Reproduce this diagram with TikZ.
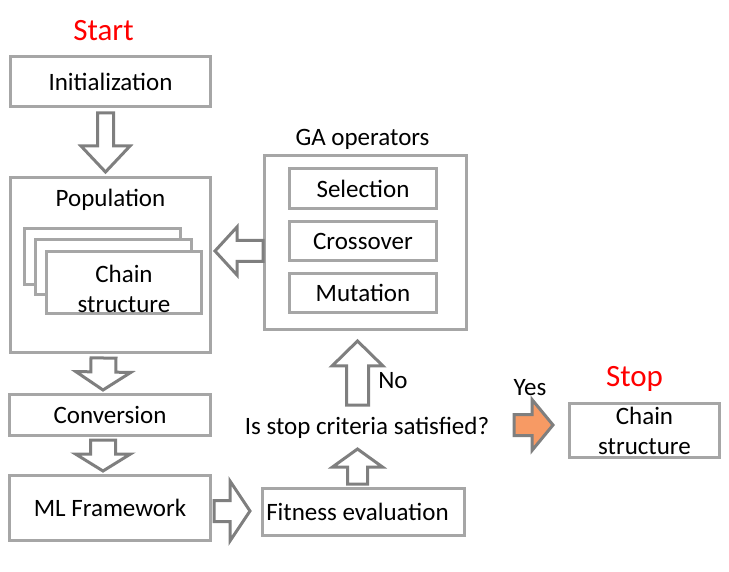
\documentclass[tikz,border=0pt]{standalone}
\usepackage{fontspec}
\setmainfont{Carlito}
\usetikzlibrary{calc}
\definecolor{boxgray}{HTML}{A6A6A6}
\definecolor{arrgray}{HTML}{7F7F7F}
\definecolor{yesorange}{HTML}{F79A64}
\tikzset{
  box/.style={draw=boxgray, line width=3pt, fill=white, inner sep=0pt, font=\fontsize{25}{30}\selectfont, align=center},
  txt/.style={inner sep=0pt, font=\fontsize{25}{30}\selectfont, align=center},
  big/.style={inner sep=0pt, text=red, font=\fontsize{31}{36}\selectfont},
  barr/.style={draw=arrgray, line width=3pt, fill=white, line join=miter},
}
% #1 options, #2 start, #3 tip, #4 shaft half width, #5 head half width, #6 head length (all in pt)
\newcommand\blockarr[6][]{%
  \coordinate (ba-h) at ($(#3)!#6pt!(#2)$);
  \draw[barr,#1] ($(#2)!#4pt!90:(#3)$) -- ($(ba-h)!#4pt!90:(#3)$) -- ($(ba-h)!#5pt!90:(#3)$) -- (#3)
    -- ($(ba-h)!#5pt!-90:(#3)$) -- ($(ba-h)!#4pt!-90:(#3)$) -- ($(#2)!#4pt!-90:(#3)$) -- cycle;
}
\begin{document}
\begin{tikzpicture}[x=1pt,y=-1pt]
\useasboundingbox (0,0) rectangle (729,572);
% left column
\node[box, minimum width=200, minimum height=50] (init) at (110.5,81.5) {Initialization};
\node[big] (start) at ($(init.north)+(-7,-24)$) {Start};
\node[box, minimum width=200, minimum height=175] (pop) at (110.5,265) {};
\node[txt] (poplbl) at ($(pop.north)+(0,24)$) {Population};
\node[box, minimum width=156, minimum height=56] (cb) at (102.5,256.5) {};
\node[box, minimum width=156, minimum height=55] (cm) at (113.5,267) {};
\node[box, minimum width=155, minimum height=62] (cf) at (124,282.5) {};
\node[txt] (cftxt) at ($(cf.center)+(0,6)$) {Chain\\structure};
\node[box, minimum width=201, minimum height=41] (conv) at (110,415) {Conversion};
\node[box, minimum width=201, minimum height=65] (ml) at (110,508) {ML Framework};
% GA operators
\node[box, minimum width=202, minimum height=174] (ga) at (365.5,242.5) {};
\node[txt] (galbl) at ($(ga.north)+(-3,-15)$) {GA operators};
\node[box, minimum width=147, minimum height=40] (sel) at (363,188.5) {Selection};
\node[box, minimum width=147, minimum height=39] (cro) at (363,241) {Crossover};
\node[box, minimum width=147, minimum height=39] (mut) at (363,293) {Mutation};
% fitness / decision
\node[box, minimum width=202, minimum height=47] (fit) at (363.5,512) {};
\node[txt] (fittxt) at ($(fit.center)+(-6,0)$) {Fitness evaluation};
\node[txt] (q) at (367,428) {Is stop criteria satisfied?};
\node[txt] (no) at ($(q.center)+(26,-47)$) {No};
% stop
\node[box, minimum width=150, minimum height=54] (cr) at (644.5,430.5) {Chain\\structure};
\node[big] (stop) at ($(cr.north)+(-10,-23)$) {Stop};
\node[txt] (yes) at ($(cr.west)+(-38,-43)$) {Yes};
% block arrows
\coordinate (a1s) at ($(init.south)+(-5,5)$);
\coordinate (a1e) at ($(pop.north)+(-5,-4)$);
\blockarr{a1s}{a1e}{8}{24.5}{26}
\coordinate (a2s) at ($(pop.south)+(-7,4)$);
\coordinate (a2e) at ($(conv.north)+(-7,-3)$);
\blockarr{a2s}{a2e}{12.5}{27.5}{18}
\coordinate (a3s) at ($(conv.south)+(-7,3)$);
\coordinate (a3e) at ($(ml.north)+(-7,-3)$);
\blockarr{a3s}{a3e}{12.5}{27.5}{17}
\coordinate (a4s) at ($(ml.east)+(2,3)$);
\coordinate (a4e) at ($(fit.west)+(-11,-1)$);
\blockarr{a4s}{a4e}{10.5}{30}{20}
\coordinate (a5s) at ($(fit.north)+(-6,-3)$);
\coordinate (a5e) at ($(q.center)+(-9.5,21)$);
\blockarr{a5s}{a5e}{10}{25}{18}
\coordinate (a6s) at ($(q.center)+(-9.5,-23)$);
\coordinate (a6e) at ($(ga.south)+(-8,10)$);
\blockarr{a6s}{a6e}{11}{25.5}{25}
\coordinate (a7s) at ($(ga.west)+(0,8.5)$);
\coordinate (a7e) at ($(pop.east)+(3,-14)$);
\blockarr{a7s}{a7e}{10.5}{24}{22}
\coordinate (a8s) at ($(cr.west)+(-54,-5.5)$);
\coordinate (a8e) at ($(cr.west)+(-15,-5.5)$);
\blockarr[fill=yesorange]{a8s}{a8e}{10.5}{25.5}{21}
\end{tikzpicture}
\end{document}
